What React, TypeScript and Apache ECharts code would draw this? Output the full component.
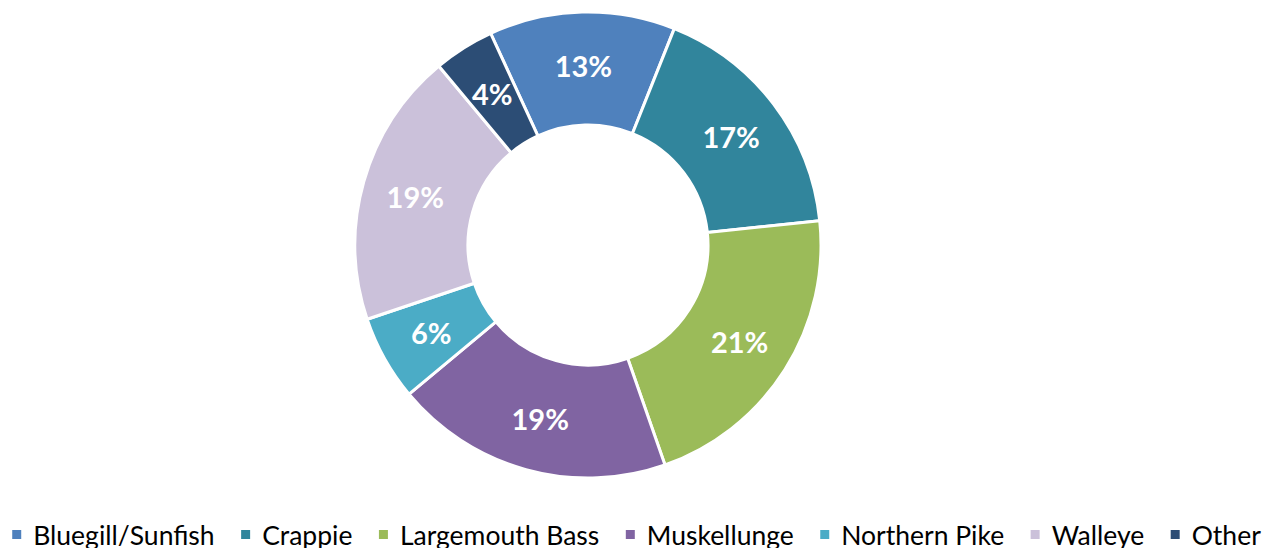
import React, { useEffect, useRef } from "react";
import * as echarts from "echarts";

const categories = ["Bluegill/Sunfish", "Crappie", "Largemouth Bass", "Muskellunge", "Northern Pike", "Walleye", "Other"];
const values = [12.9, 17.3, 21.3, 19.3, 5.9, 19.1, 4.2];
const colors = ["#4F81BD", "#31859C", "#9BBB59", "#8064A2", "#4BACC6", "#CBC1DA", "#2C4D75"];

export default function App() {
  const ref = useRef<HTMLDivElement>(null);
  useEffect(() => {
    document.body.style.margin = "0";
    const chart = echarts.init(ref.current!, null, { renderer: "svg" });
    chart.setOption({
      animation: false,
      color: colors,
      legend: {
        left: "center",
        top: 521,
        padding: 0,
        itemWidth: 11,
        itemHeight: 11,
        itemGap: 24.5,
        icon: "rect",
        textStyle: { fontFamily: "Lato", fontSize: 26.5, color: "#000", padding: [0, 0, 0, 6] },
        data: categories,
      },
      series: [
        {
          type: "pie",
          center: [588, 245],
          radius: [120, 233],
          startAngle: 114.7,
          clockwise: true,
          avoidLabelOverlap: false,
          itemStyle: { borderColor: "#fff", borderWidth: 3 },
          label: {
            position: "inside",
            color: "#fff",
            fontFamily: "Lato",
            fontWeight: "bold",
            fontSize: 29,
            formatter: (p: any) => Math.round(p.percent) + "%",
          },
          labelLine: { show: false },
          emphasis: { disabled: true },
          data: categories.map((c, i) => ({ name: c, value: values[i] })),
        },
      ],
    });
    return () => chart.dispose();
  }, []);
  return <div ref={ref} style={{ width: 1271, height: 548 }} />;
}
